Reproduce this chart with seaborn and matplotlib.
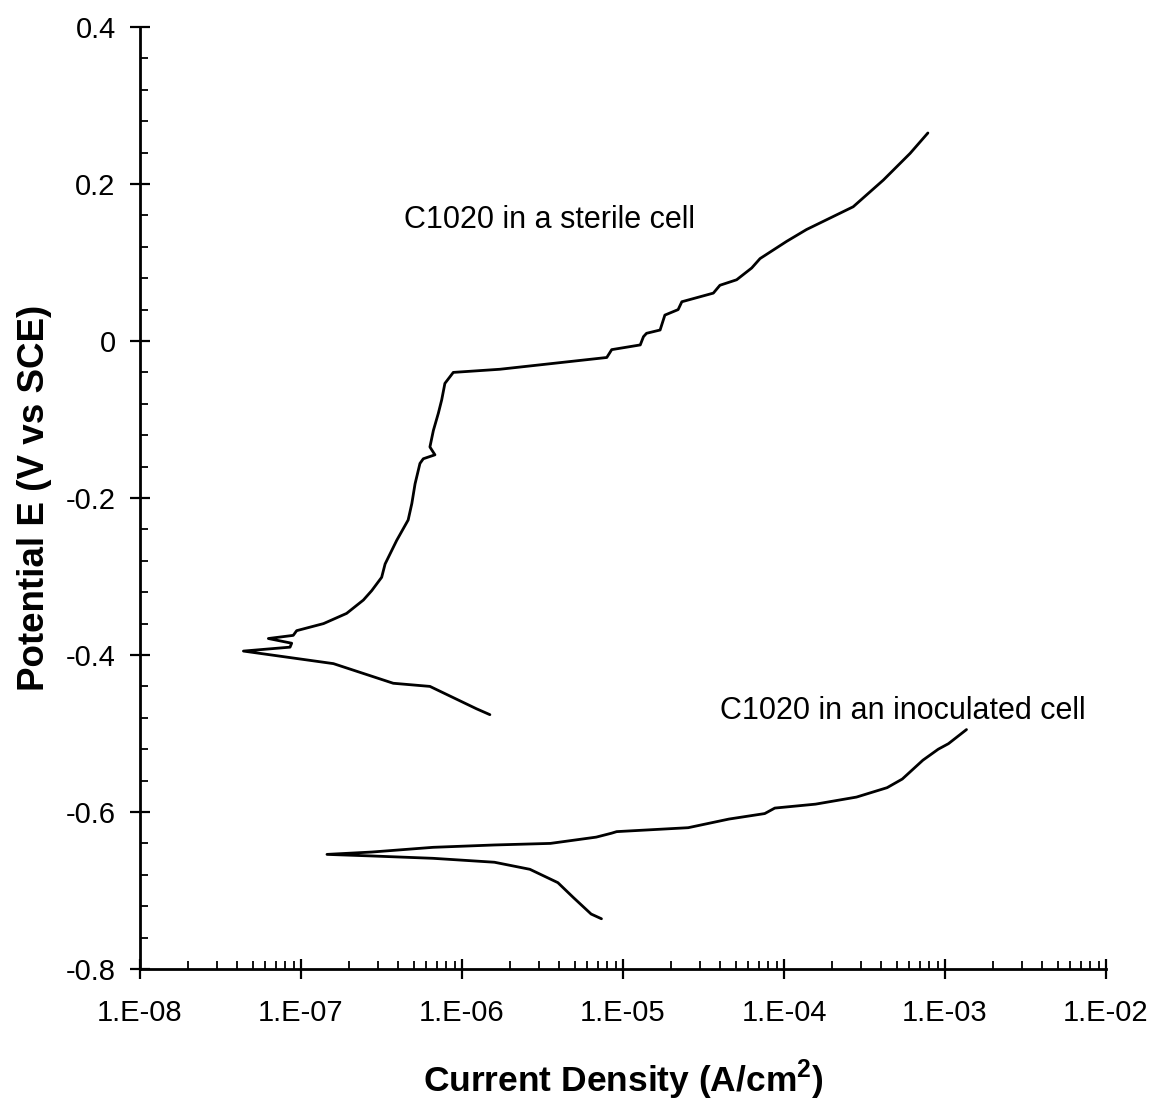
import matplotlib
matplotlib.use("Agg")
import matplotlib.pyplot as plt
import matplotlib.ticker as mticker
import numpy as np
import pandas as pd
import seaborn as sns

# ---- data ----
sterile_i = [1.49e-6, 1.23e-6, 6.32e-7, 3.74e-7, 1.59e-7, 4.39e-8, 8.55e-8, 8.75e-8,
             6.27e-8, 8.95e-8, 9.40e-8, 1.38e-7, 1.92e-7, 2.44e-7, 2.75e-7, 3.17e-7,
             3.33e-7, 3.93e-7, 4.63e-7, 4.88e-7, 5.11e-7, 5.48e-7, 5.75e-7, 6.79e-7,
             6.32e-7, 6.64e-7, 7.13e-7, 7.48e-7, 7.83e-7, 8.83e-7, 1.72e-6, 7.93e-6,
             8.51e-6, 1.28e-5, 1.34e-5, 1.40e-5, 1.70e-5, 1.82e-5, 2.20e-5, 2.32e-5,
             3.64e-5, 4.00e-5, 5.08e-5, 6.30e-5, 7.10e-5, 1.04e-4, 1.38e-4, 2.69e-4,
             4.14e-4, 6.07e-4, 7.83e-4]
sterile_E = [-0.476, -0.4685, -0.440, -0.436, -0.411, -0.395, -0.390, -0.385,
             -0.379, -0.375, -0.369, -0.360, -0.347, -0.330, -0.318, -0.301,
             -0.284, -0.254, -0.228, -0.207, -0.182, -0.156, -0.150, -0.145,
             -0.135, -0.114, -0.092, -0.075, -0.054, -0.040, -0.036, -0.021,
             -0.011, -0.005, 0.0055, 0.0098, 0.014, 0.033, 0.040, 0.050,
             0.061, 0.071, 0.078, 0.093, 0.105, 0.127, 0.142, 0.171,
             0.205, 0.239, 0.265]

inoc_i = [7.35e-6, 6.34e-6, 4.92e-6, 3.94e-6, 2.64e-6, 1.59e-6, 6.61e-7, 2.75e-7,
          1.45e-7, 2.75e-7, 6.61e-7, 1.59e-6, 3.54e-6, 6.82e-6, 8.49e-6, 9.14e-6,
          2.54e-5, 4.55e-5, 7.59e-5, 8.77e-5, 1.57e-4, 2.82e-4, 4.37e-4, 5.43e-4,
          7.29e-4, 9.08e-4, 1.05e-3, 1.36e-3]
inoc_E = [-0.736, -0.730, -0.709, -0.690, -0.673, -0.664, -0.659, -0.656,
          -0.654, -0.651, -0.645, -0.642, -0.640, -0.632, -0.627, -0.625,
          -0.620, -0.609, -0.602, -0.595, -0.590, -0.581, -0.569, -0.558,
          -0.534, -0.520, -0.513, -0.495]

x_ticks = [1e-8, 1e-7, 1e-6, 1e-5, 1e-4, 1e-3, 1e-2]
x_ticklabels = ["1.E-08", "1.E-07", "1.E-06", "1.E-05", "1.E-04", "1.E-03", "1.E-02"]
y_ticks = [-0.8, -0.6, -0.4, -0.2, 0, 0.2, 0.4]
y_ticklabels = ["-0.8", "-0.6", "-0.4", "-0.2", "0", "0.2", "0.4"]

label_sterile = "C1020 in a sterile cell"
label_inoc = "C1020 in an inoculated cell"

df = pd.concat([
    pd.DataFrame({"i": sterile_i, "E": sterile_E, "cell": label_sterile,
                  "order": range(len(sterile_i))}),
    pd.DataFrame({"i": inoc_i, "E": inoc_E, "cell": label_inoc,
                  "order": range(len(inoc_i))}),
])

sns.set_theme(style="white")
plt.rcParams["font.family"] = ["Liberation Sans", "DejaVu Sans"]
plt.rcParams["axes.unicode_minus"] = False
plt.rcParams["text.color"] = "black"
plt.rcParams["axes.labelcolor"] = "black"
plt.rcParams["mathtext.fontset"] = "custom"
plt.rcParams["mathtext.bf"] = "Liberation Sans:bold"
plt.rcParams["mathtext.rm"] = "Liberation Sans"

fig = plt.figure(figsize=(11.57, 11.04), dpi=100)
ax = fig.add_axes([140 / 1157, 1 - 969 / 1104, (1106 - 140) / 1157, (969 - 27) / 1104])

sns.lineplot(data=df, x="i", y="E", units="cell", estimator=None, sort=False,
             color="black", linewidth=2.0, ax=ax, legend=False)

ax.set_xscale("log")
ax.set_xlim(1e-8, 1e-2)
ax.set_ylim(-0.8, 0.4)

ax.set_xticks(x_ticks)
ax.set_xticklabels(x_ticklabels)
ax.xaxis.set_minor_locator(mticker.LogLocator(base=10, subs=np.arange(2, 10), numticks=100))
ax.xaxis.set_minor_formatter(mticker.NullFormatter())
ax.set_yticks(y_ticks)
ax.set_yticklabels(y_ticklabels)
ax.yaxis.set_minor_locator(mticker.MultipleLocator(0.04))

for s in ["top", "right"]:
    ax.spines[s].set_visible(False)
for s in ["left", "bottom"]:
    ax.spines[s].set_color("black")
    ax.spines[s].set_linewidth(2.0)

ax.tick_params(axis="both", which="major", direction="inout", length=15, width=1.6,
               color="black", labelsize=21, labelcolor="black")
ax.tick_params(axis="x", which="major", pad=14)
ax.tick_params(axis="y", which="major", pad=10)
ax.tick_params(axis="both", which="minor", direction="in", length=6, width=1.3, color="black")
ax.tick_params(axis="x", which="both", bottom=True)
ax.tick_params(axis="y", which="both", left=True)

ax.set_xlabel("Current Density (A/cm$^{\\mathbf{2}}$)", fontsize=25.5, fontweight="bold",
              labelpad=22, color="black")
ax.set_ylabel("Potential E (V vs SCE)", fontsize=26.5, fontweight="bold", labelpad=10,
              color="black")

ax.text(4.36e-7, 0.154, label_sterile, fontsize=22, ha="left", va="center", color="black")
ax.text(4.0e-5, -0.471, label_inoc, fontsize=22, ha="left", va="center", color="black")

ax.grid(False)
fig.savefig("out.png", dpi=100, facecolor="white")
